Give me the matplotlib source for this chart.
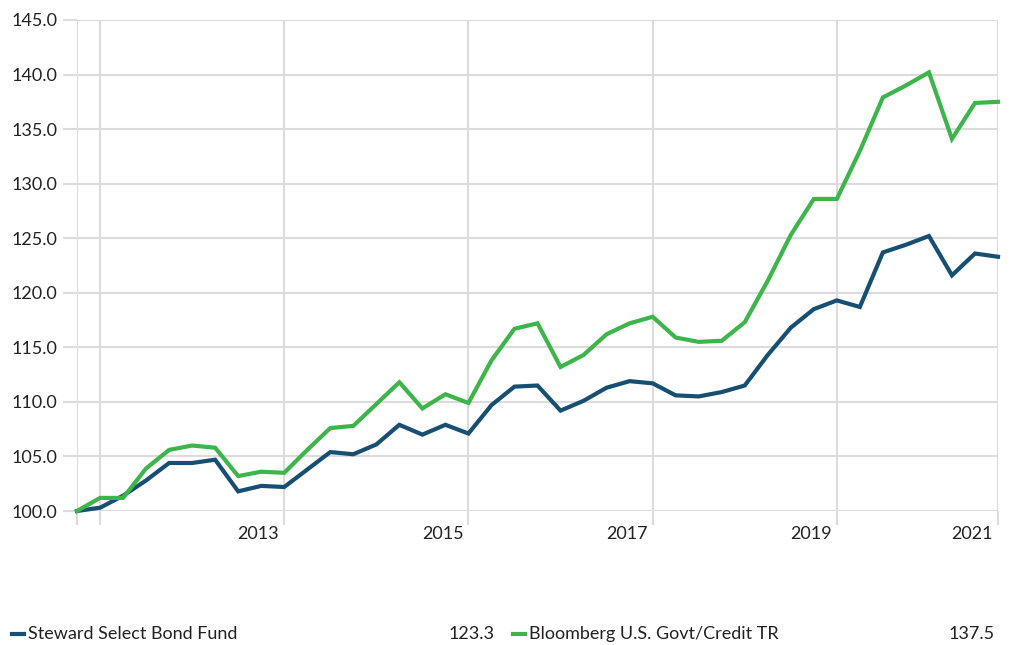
import matplotlib.pyplot as plt
import matplotlib.transforms as mtransforms

plt.rcParams['font.family'] = ['Lato', 'DejaVu Sans']

# quarterly growth of 100, 41 points
fund = [100.0, 100.3, 101.4, 102.8, 104.4, 104.4, 104.7, 101.8, 102.3, 102.2,
        103.8, 105.4, 105.2, 106.1, 107.9, 107.0, 107.9, 107.1, 109.7, 111.4,
        111.5, 109.2, 110.1, 111.3, 111.9, 111.7, 110.6, 110.5, 110.9, 111.5,
        114.3, 116.8, 118.5, 119.3, 118.7, 123.7, 124.4, 125.2, 121.6, 123.6,
        123.3]
bench = [100.0, 101.2, 101.2, 103.9, 105.6, 106.0, 105.8, 103.2, 103.6, 103.5,
         105.6, 107.6, 107.8, 109.8, 111.8, 109.4, 110.7, 109.9, 113.8, 116.7,
         117.2, 113.2, 114.3, 116.2, 117.2, 117.8, 115.9, 115.5, 115.6, 117.3,
         121.1, 125.3, 128.6, 128.6, 133.0, 137.9, 139.0, 140.2, 134.1, 137.4,
         137.5]
names = ['Steward Select Bond Fund', 'Bloomberg U.S. Govt/Credit TR']
colors = ['#174f73', '#3cb54a']
grid_pos = [0, 1, 9, 17, 25, 33, 40]
year_pos = [9, 17, 25, 33, 40]
year_labels = ['2013', '2015', '2017', '2019', '2021']
y_ticks = [100 + 5 * i for i in range(10)]

fig = plt.figure(figsize=(10.1, 6.45), dpi=100)
ax = fig.add_axes([77 / 1010, 1 - 511 / 645, (998 - 77) / 1010, 491 / 645])

x = list(range(len(fund)))
ax.plot(x, fund, color=colors[0], lw=3, zorder=3, clip_on=False, solid_joinstyle='miter')
ax.plot(x, bench, color=colors[1], lw=3, zorder=3, clip_on=False, solid_joinstyle='miter')

ax.set_xlim(0, 40)
ax.set_ylim(100, 145)
ax.set_yticks(y_ticks)
ax.set_yticklabels([f'{v:.1f}' for v in y_ticks], fontsize=13, color='#222222')
ax.set_xticks(grid_pos)
ax.set_xticklabels([''] * len(grid_pos))
ax.tick_params(axis='both', length=10, width=1.5, color='#dcdcdc', pad=4)
ax.grid(True, color='#dcdcdc', lw=1.5, zorder=0)
for s in ax.spines.values():
    s.set_visible(False)

# year labels sit just left of their gridline
off = mtransforms.ScaledTranslation(-5 / 100, -3 / 100, fig.dpi_scale_trans)
for p, lab in zip(year_pos, year_labels):
    ax.text(p, -0.025, lab, transform=ax.get_xaxis_transform() + off,
            ha='right', va='top', fontsize=13, color='#222222')

# legend row
vals = [fund[-1], bench[-1]]
starts = [12, 513]
ends = [495, 995]
for nm, c, v, s0, e0 in zip(names, colors, vals, starts, ends):
    fig.add_artist(plt.Line2D([s0 / 1010, (s0 + 12) / 1010], [1 - 634 / 645] * 2,
                              color=c, lw=3))
    fig.text((s0 + 16) / 1010, 1 - 634 / 645, nm, ha='left', va='center',
             fontsize=13, color='#222222')
    fig.text(e0 / 1010, 1 - 634 / 645, f'{v:.1f}', ha='right', va='center',
             fontsize=13, color='#222222')

fig.savefig('out.png', dpi=100)
